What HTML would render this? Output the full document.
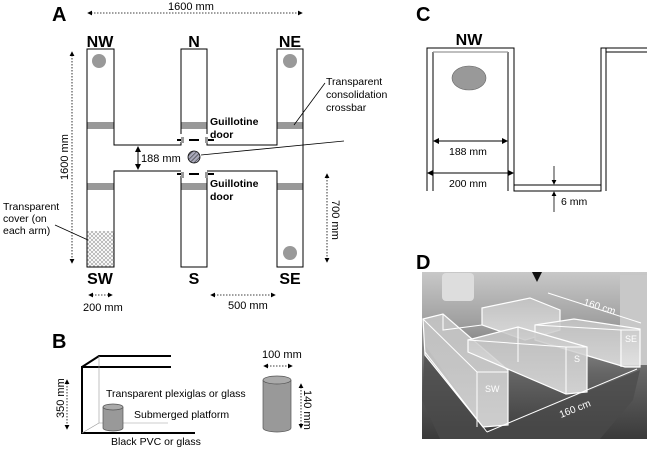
<!DOCTYPE html>
<html><head><meta charset="utf-8"><style>
body{margin:0;background:#fff}
svg{display:block;font-family:"Liberation Sans",Arial,sans-serif}
</style></head><body>
<svg width="650" height="449" viewBox="0 0 650 449" xmlns="http://www.w3.org/2000/svg">
<defs>
<pattern id="hx" width="4" height="4" patternUnits="userSpaceOnUse"><path d="M0 0L4 4M4 0L0 4" stroke="#999" stroke-width="0.6"/></pattern>
<pattern id="hd" width="3" height="3" patternUnits="userSpaceOnUse" patternTransform="rotate(45)"><rect width="3" height="3" fill="#aab"/><line x1="0" y1="0" x2="0" y2="3" stroke="#333" stroke-width="1.2"/></pattern>
<marker id="a" markerWidth="6" markerHeight="6" refX="5" refY="3" orient="auto"><path d="M0 0L6 3L0 6z" fill="#000"/></marker>
<marker id="as" markerWidth="6" markerHeight="6" refX="1" refY="3" orient="auto"><path d="M6 0L0 3L6 6z" fill="#000"/></marker>
<linearGradient id="ph" x1="0" y1="0" x2="0" y2="1"><stop offset="0" stop-color="#c8c8c8"/><stop offset="0.3" stop-color="#a0a0a0"/><stop offset="0.6" stop-color="#666"/><stop offset="1" stop-color="#3a3a3a"/></linearGradient>
<linearGradient id="bx" x1="0" y1="0" x2="0" y2="1"><stop offset="0" stop-color="#c4c4c4"/><stop offset="1" stop-color="#e6e6e6"/></linearGradient>
</defs>
<!-- A -->
<text x="52" y="21" font-size="20" font-weight="bold">A</text>
<line x1="88" y1="13" x2="302" y2="13" stroke="#000" stroke-width="0.8" stroke-dasharray="1.5,1.5" marker-end="url(#a)" marker-start="url(#as)"/>
<text x="168" y="10" font-size="11">1600 mm</text>
<g font-size="16" font-weight="bold" text-anchor="middle">
<text x="100" y="47">NW</text><text x="194" y="47">N</text><text x="290" y="47">NE</text>
<text x="100" y="284">SW</text><text x="194" y="284">S</text><text x="290" y="284">SE</text>
</g>
<rect x="87" y="231" width="27" height="36" fill="url(#hx)"/>
<g fill="#999">
<rect x="87" y="122" width="27" height="7"/><rect x="181" y="122" width="26" height="7"/><rect x="277" y="122" width="26" height="7"/>
<rect x="87" y="183" width="27" height="7"/><rect x="181" y="183" width="26" height="7"/><rect x="277" y="183" width="26" height="7"/>
</g>
<g fill="none" stroke="#000" stroke-width="1">
<path d="M87 49V267H114V171H181V267H207V171H277V267H303V49H277V145H207V49H181V145H114V49Z"/>
</g>
<rect x="178" y="134" width="35" height="8" fill="#fff"/>
<rect x="178" y="168" width="35" height="8" fill="#fff"/>
<line x1="114" y1="145" x2="181" y2="145" stroke="#000"/><line x1="207" y1="145" x2="277" y2="145" stroke="#000"/>
<line x1="114" y1="171" x2="181" y2="171" stroke="#000"/><line x1="207" y1="171" x2="277" y2="171" stroke="#000"/>
<g stroke="#000" stroke-width="2"><line x1="177" y1="140" x2="184" y2="140"/><line x1="189" y1="140" x2="199" y2="140"/><line x1="205" y1="140" x2="214" y2="140"/>
<line x1="177" y1="174" x2="184" y2="174"/><line x1="189" y1="174" x2="199" y2="174"/><line x1="205" y1="174" x2="214" y2="174"/></g>
<g fill="#999"><rect x="181" y="137" width="3" height="6"/><rect x="205" y="137" width="3" height="6"/><rect x="181" y="172" width="3" height="6"/><rect x="205" y="172" width="3" height="6"/></g>
<circle cx="99" cy="61" r="7" fill="#999"/><circle cx="290" cy="61" r="7" fill="#999"/><circle cx="290" cy="253" r="7" fill="#999"/>
<circle cx="194" cy="157" r="6" fill="url(#hd)" stroke="#000" stroke-width="0.8"/>
<line x1="201" y1="155" x2="344" y2="141" stroke="#000" stroke-width="0.8"/>
<line x1="294" y1="125" x2="325" y2="83" stroke="#000" stroke-width="0.8"/>
<text font-size="10.5" x="326" y="85">Transparent</text>
<text font-size="10.5" x="326" y="98">consolidation</text>
<text font-size="10.5" x="326" y="111">crossbar</text>
<g font-size="10.5" font-weight="bold"><text x="210" y="125">Guillotine</text><text x="210" y="138">door</text><text x="210" y="187">Guillotine</text><text x="210" y="200">door</text></g>
<line x1="138" y1="147" x2="138" y2="169" stroke="#000" marker-end="url(#a)" marker-start="url(#as)"/>
<text x="141" y="162" font-size="11">188 mm</text>
<line x1="72" y1="52" x2="72" y2="263" stroke="#000" stroke-width="0.8" stroke-dasharray="1.5,1.5" marker-end="url(#a)" marker-start="url(#as)"/>
<text font-size="11" transform="translate(68,180) rotate(-90)">1600 mm</text>
<line x1="327" y1="174" x2="327" y2="262" stroke="#000" stroke-width="0.8" stroke-dasharray="1.5,1.5" marker-end="url(#a)" marker-start="url(#as)"/>
<text font-size="11" transform="translate(332,200) rotate(90)">700 mm</text>
<text font-size="10.5" x="3" y="210">Transparent</text><text font-size="10.5" x="3" y="222">cover (on</text><text font-size="10.5" x="3" y="234">each arm)</text>
<line x1="55" y1="225" x2="88" y2="240" stroke="#000" stroke-width="0.8"/>
<line x1="89" y1="295" x2="112" y2="295" stroke="#000" stroke-width="0.8" stroke-dasharray="1.5,1.5" marker-end="url(#a)" marker-start="url(#as)"/>
<text x="83" y="311" font-size="11">200 mm</text>
<line x1="211" y1="295" x2="275" y2="295" stroke="#000" stroke-width="0.8" stroke-dasharray="1.5,1.5" marker-end="url(#a)" marker-start="url(#as)"/>
<text x="228" y="309" font-size="11">500 mm</text>
<!-- B -->
<text x="52" y="348" font-size="20" font-weight="bold">B</text>
<g stroke="#000" stroke-width="2" fill="none"><path d="M171 367L82 367L82 433L195 433"/><path d="M82 367L99 356L171 356"/></g>
<line x1="99" y1="356" x2="99" y2="423" stroke="#999" stroke-width="0.6"/><line x1="99" y1="423" x2="82" y2="433" stroke="#999" stroke-width="0.6"/><line x1="99" y1="423" x2="168" y2="423" stroke="#999" stroke-width="0.6"/>
<path d="M103 407V428A10 3 0 0 0 123 428V407" fill="#999" stroke="#555" stroke-width="0.7"/><ellipse cx="113" cy="407" rx="10" ry="3" fill="#aaa" stroke="#555" stroke-width="0.7"/>
<text x="106" y="397" font-size="10.5">Transparent plexiglas or glass</text>
<text x="134" y="418" font-size="10.5">Submerged platform</text>
<text x="111" y="445" font-size="10.5">Black PVC or glass</text>
<line x1="67" y1="380" x2="67" y2="429" stroke="#000" stroke-width="0.8" stroke-dasharray="1.5,1.5" marker-end="url(#a)" marker-start="url(#as)"/>
<text font-size="11" transform="translate(64,418) rotate(-90)">350 mm</text>
<path d="M263 380V428A14 4 0 0 0 291 428V380" fill="#999" stroke="#555" stroke-width="0.7"/><ellipse cx="277" cy="380" rx="14" ry="4" fill="#aaa" stroke="#555" stroke-width="0.7"/>
<line x1="264" y1="366" x2="292" y2="366" stroke="#000" stroke-width="0.8" stroke-dasharray="1.5,1.5" marker-end="url(#a)" marker-start="url(#as)"/>
<text x="262" y="358" font-size="11">100 mm</text>
<line x1="301" y1="384" x2="301" y2="428" stroke="#000" stroke-width="0.8" stroke-dasharray="1.5,1.5" marker-end="url(#a)" marker-start="url(#as)"/>
<text font-size="11" transform="translate(304,390) rotate(90)">140 mm</text>
<!-- C -->
<text x="416" y="21" font-size="20" font-weight="bold">C</text>
<text x="469" y="45" font-size="16" font-weight="bold" text-anchor="middle">NW</text>
<g stroke="#000" stroke-width="1" fill="none">
<path d="M427 191V48H514V191H601V48H606V52H647"/><line x1="433" y1="52" x2="433" y2="191"/><line x1="508" y1="52" x2="508" y2="191"/><line x1="514" y1="185" x2="601" y2="185"/><line x1="606" y1="48" x2="647" y2="48"/><line x1="606" y1="52" x2="606" y2="191"/>
</g>
<line x1="433" y1="52" x2="508" y2="52" stroke="#999" stroke-width="1.2"/>
<ellipse cx="469" cy="78" rx="17" ry="12" fill="#999" stroke="#666" stroke-width="0.6"/>
<line x1="434" y1="141" x2="507" y2="141" stroke="#000" marker-end="url(#a)" marker-start="url(#as)"/>
<text x="449" y="155" font-size="10.5">188 mm</text>
<line x1="428" y1="173" x2="513" y2="173" stroke="#000" marker-end="url(#a)" marker-start="url(#as)"/>
<text x="449" y="187" font-size="10.5">200 mm</text>
<line x1="554" y1="166" x2="554" y2="184" stroke="#000" stroke-width="0.8" marker-end="url(#a)"/>
<line x1="554" y1="212" x2="554" y2="192" stroke="#000" stroke-width="0.8" marker-end="url(#a)"/>
<text x="561" y="205" font-size="10.5">6 mm</text>
<!-- D -->
<text x="416" y="269" font-size="20" font-weight="bold">D</text>
<rect x="422" y="272" width="225" height="167" fill="url(#ph)"/>
<rect x="442" y="273" width="32" height="28" rx="4" fill="#ddd"/>
<rect x="620" y="275" width="27" height="90" fill="#c8c8c8"/>
<path d="M532 272L542 272L537 282Z" fill="#111"/>
<path d="M425 345L487 432L640 370L633 400L600 439L440 439L422 400Z" fill="#4a4a4a" opacity="0.7"/>
<g stroke="#fff" stroke-width="1.2" fill="url(#bx)" fill-opacity="0.85">
<path d="M482 308L530 298L560 310L560 330L525 340L482 325Z"/>
<path d="M535 325L574 319L640 329L640 367L625 367L535 340Z"/>
<path d="M423 319L443 314L508 370L508 425L483 427L425 355Z"/>
<path d="M468 340L518 327L587 347L587 392L566 394L468 352Z"/>
</g>
<g stroke="#fff" stroke-width="1" fill="none">
<path d="M477 372L508 372M477 372L477 427M423 319L477 372"/>
<path d="M566 347L587 347M566 347L566 394M468 340L566 347M518 327L518 362"/>
<path d="M621 330L640 330M621 330L621 367M535 325L621 330"/>
<path d="M443 314L443 330L482 325"/>
</g>
<line x1="548" y1="293" x2="641" y2="323" stroke="#fff" stroke-width="1"/>
<text x="583" y="305" font-size="10" fill="#fff" transform="rotate(17 583 305)">160 cm</text>
<line x1="425" y1="352" x2="487" y2="432" stroke="#fff" stroke-width="1"/>
<line x1="487" y1="432" x2="637" y2="369" stroke="#fff" stroke-width="1"/>
<text x="561" y="418" font-size="10" fill="#fff" transform="rotate(-22 561 418)">160 cm</text>
<g fill="#fff" font-size="9"><text x="485" y="392">SW</text><text x="574" y="362">S</text><text x="625" y="342">SE</text></g>
</svg>
</body></html>
